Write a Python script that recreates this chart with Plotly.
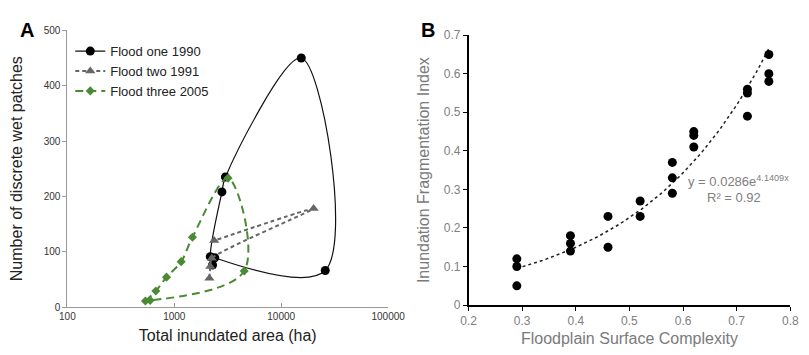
import plotly.graph_objects as go
import numpy as np

# ---------------- Panel A data ----------------
flood1_area = [2390, 25800, 15400, 3010, 2790, 2170, 2280]
flood1_patches = [89, 66, 450, 235, 208, 91, 76]

flood2_area = [2130, 2170, 2240, 20100, 2360]
flood2_patches = [52, 73, 88, 178, 120]

flood3_area = [537, 672, 846, 1160, 1478, 3185, 4510, 595]
flood3_patches = [11, 29, 54, 82, 126, 233, 65, 12]

a_xtick_vals = [100, 1000, 10000, 100000]
a_xtick_text = ["100", "1000", "10000", "100000"]
a_ytick_vals = [0, 100, 200, 300, 400, 500]

# ---------------- Panel B data ----------------
complexity = [0.29, 0.29, 0.29, 0.39, 0.39, 0.39, 0.46, 0.46, 0.52, 0.52,
              0.58, 0.58, 0.58, 0.62, 0.62, 0.62, 0.72, 0.72, 0.72,
              0.76, 0.76, 0.76]
fragmentation = [0.12, 0.10, 0.05, 0.18, 0.16, 0.14, 0.23, 0.15, 0.27, 0.23,
                 0.37, 0.33, 0.29, 0.45, 0.44, 0.41, 0.56, 0.55, 0.49,
                 0.65, 0.60, 0.58]
fit_a = 0.0286
fit_b = 4.1409
b_xticks = [0.2, 0.3, 0.4, 0.5, 0.6, 0.7, 0.8]
b_yticks = [0, 0.1, 0.2, 0.3, 0.4, 0.5, 0.6, 0.7]
b_yticktext = ["0", "0.1", "0.2", "0.3", "0.4", "0.5", "0.6", "0.7"]

fit_x = np.linspace(min(complexity), max(complexity), 80)
fit_y = fit_a * np.exp(fit_b * fit_x)

GREEN = "#4a8a35"
GRAY2 = "#666666"
FONT = "Arial, Liberation Sans, sans-serif"

fig = go.Figure()

fig.add_trace(go.Scatter(
    x=flood1_area, y=flood1_patches, name="Flood one 1990",
    mode="lines+markers", line=dict(color="#111111", width=1.2, shape="spline", smoothing=1.0),
    marker=dict(symbol="circle", size=9, color="black"),
    xaxis="x", yaxis="y"))
fig.add_trace(go.Scatter(
    x=flood2_area, y=flood2_patches, name="Flood two 1991",
    mode="lines+markers", line=dict(color=GRAY2, width=2, dash="4px,3px", shape="spline", smoothing=0.6),
    marker=dict(symbol="triangle-up", size=9, color=GRAY2),
    xaxis="x", yaxis="y"))
fig.add_trace(go.Scatter(
    x=flood3_area, y=flood3_patches, name="Flood three 2005",
    mode="lines+markers", line=dict(color=GREEN, width=2, dash="8px,5px", shape="spline", smoothing=1.0),
    marker=dict(symbol="diamond", size=7, color=GREEN),
    xaxis="x", yaxis="y"))

fig.add_trace(go.Scatter(
    x=fit_x, y=fit_y, mode="lines", showlegend=False,
    line=dict(color="#222222", width=1.5, dash="dot"),
    xaxis="x2", yaxis="y2"))
fig.add_trace(go.Scatter(
    x=complexity, y=fragmentation, mode="markers", showlegend=False,
    marker=dict(symbol="circle", size=9, color="black"),
    xaxis="x2", yaxis="y2"))

W, H = 809, 355

def px(v, total):
    return v / total

fig.update_layout(
    width=W, height=H,
    margin=dict(l=0, r=0, t=0, b=0),
    paper_bgcolor="white", plot_bgcolor="white",
    font=dict(family=FONT, color="#222222"),
    legend=dict(x=px(56, W), y=1 - px(22, H), xanchor="left", yanchor="top",
                font=dict(size=13, color="#222222"), bgcolor="rgba(0,0,0,0)",
                tracegroupgap=0, itemwidth=30),
    xaxis=dict(type="log", range=[2, 5], domain=[px(53, W), px(384, W)],
               tickvals=a_xtick_vals, ticktext=a_xtick_text,
               showgrid=False, zeroline=False, showline=True, linecolor="#999999", linewidth=1,
               ticks="inside", ticklen=4, tickcolor="#999999",
               tickfont=dict(size=10, color="#333333"),
               title=dict(text="Total inundated area (ha)", font=dict(size=16, color="#222222"), standoff=8),
               anchor="y"),
    yaxis=dict(range=[0, 500], domain=[1 - px(304, H), 1 - px(16, H)],
               tickvals=a_ytick_vals,
               showgrid=False, zeroline=False, showline=True, linecolor="#999999", linewidth=1,
               ticks="outside", ticklen=4, tickcolor="#999999",
               tickfont=dict(size=10, color="#333333"),
               title=dict(text="Number of discrete wet patches", font=dict(size=16, color="#222222"), standoff=24),
               anchor="x"),
    xaxis2=dict(range=[0.2, 0.8], domain=[px(467, W), px(799, W)],
                tickvals=b_xticks, tickformat=".1f",
                showgrid=False, zeroline=False, showline=True, linecolor="black", linewidth=1.5,
                ticks="outside", ticklen=4, tickcolor="black",
                tickfont=dict(size=12, color="#808080"),
                title=dict(text="Floodplain Surface Complexity", font=dict(size=16, color="#7a7a7a"), standoff=6),
                anchor="y2"),
    yaxis2=dict(range=[0, 0.7], domain=[1 - px(302, H), 1 - px(21, H)],
                tickvals=b_yticks, ticktext=b_yticktext,
                showgrid=False, zeroline=False, showline=True, linecolor="black", linewidth=1.5,
                ticks="outside", ticklen=4, tickcolor="black",
                tickfont=dict(size=12, color="#808080"),
                title=dict(text="Inundation Fragmentation Index", font=dict(size=16, color="#7a7a7a"), standoff=10),
                anchor="x2"),
    annotations=[
        dict(text="<b>A</b>", x=px(2, W), y=1 - px(2, H), xref="paper", yref="paper",
             xanchor="left", yanchor="top", showarrow=False, font=dict(size=20, color="black")),
        dict(text="<b>B</b>", x=px(416, W), y=1 - px(2, H), xref="paper", yref="paper",
             xanchor="left", yanchor="top", showarrow=False, font=dict(size=20, color="black")),
        dict(text="y = 0.0286e<sup>4.1409x</sup>", x=px(746, W), y=1 - px(173, H), xref="paper", yref="paper",
             xanchor="center", yanchor="middle", showarrow=False, font=dict(size=13, color="#808080")),
        dict(text="R² = 0.92", x=px(741, W), y=1 - px(190, H), xref="paper", yref="paper",
             xanchor="center", yanchor="middle", showarrow=False, font=dict(size=13, color="#808080")),
    ],
)

fig.write_html("out.html")
